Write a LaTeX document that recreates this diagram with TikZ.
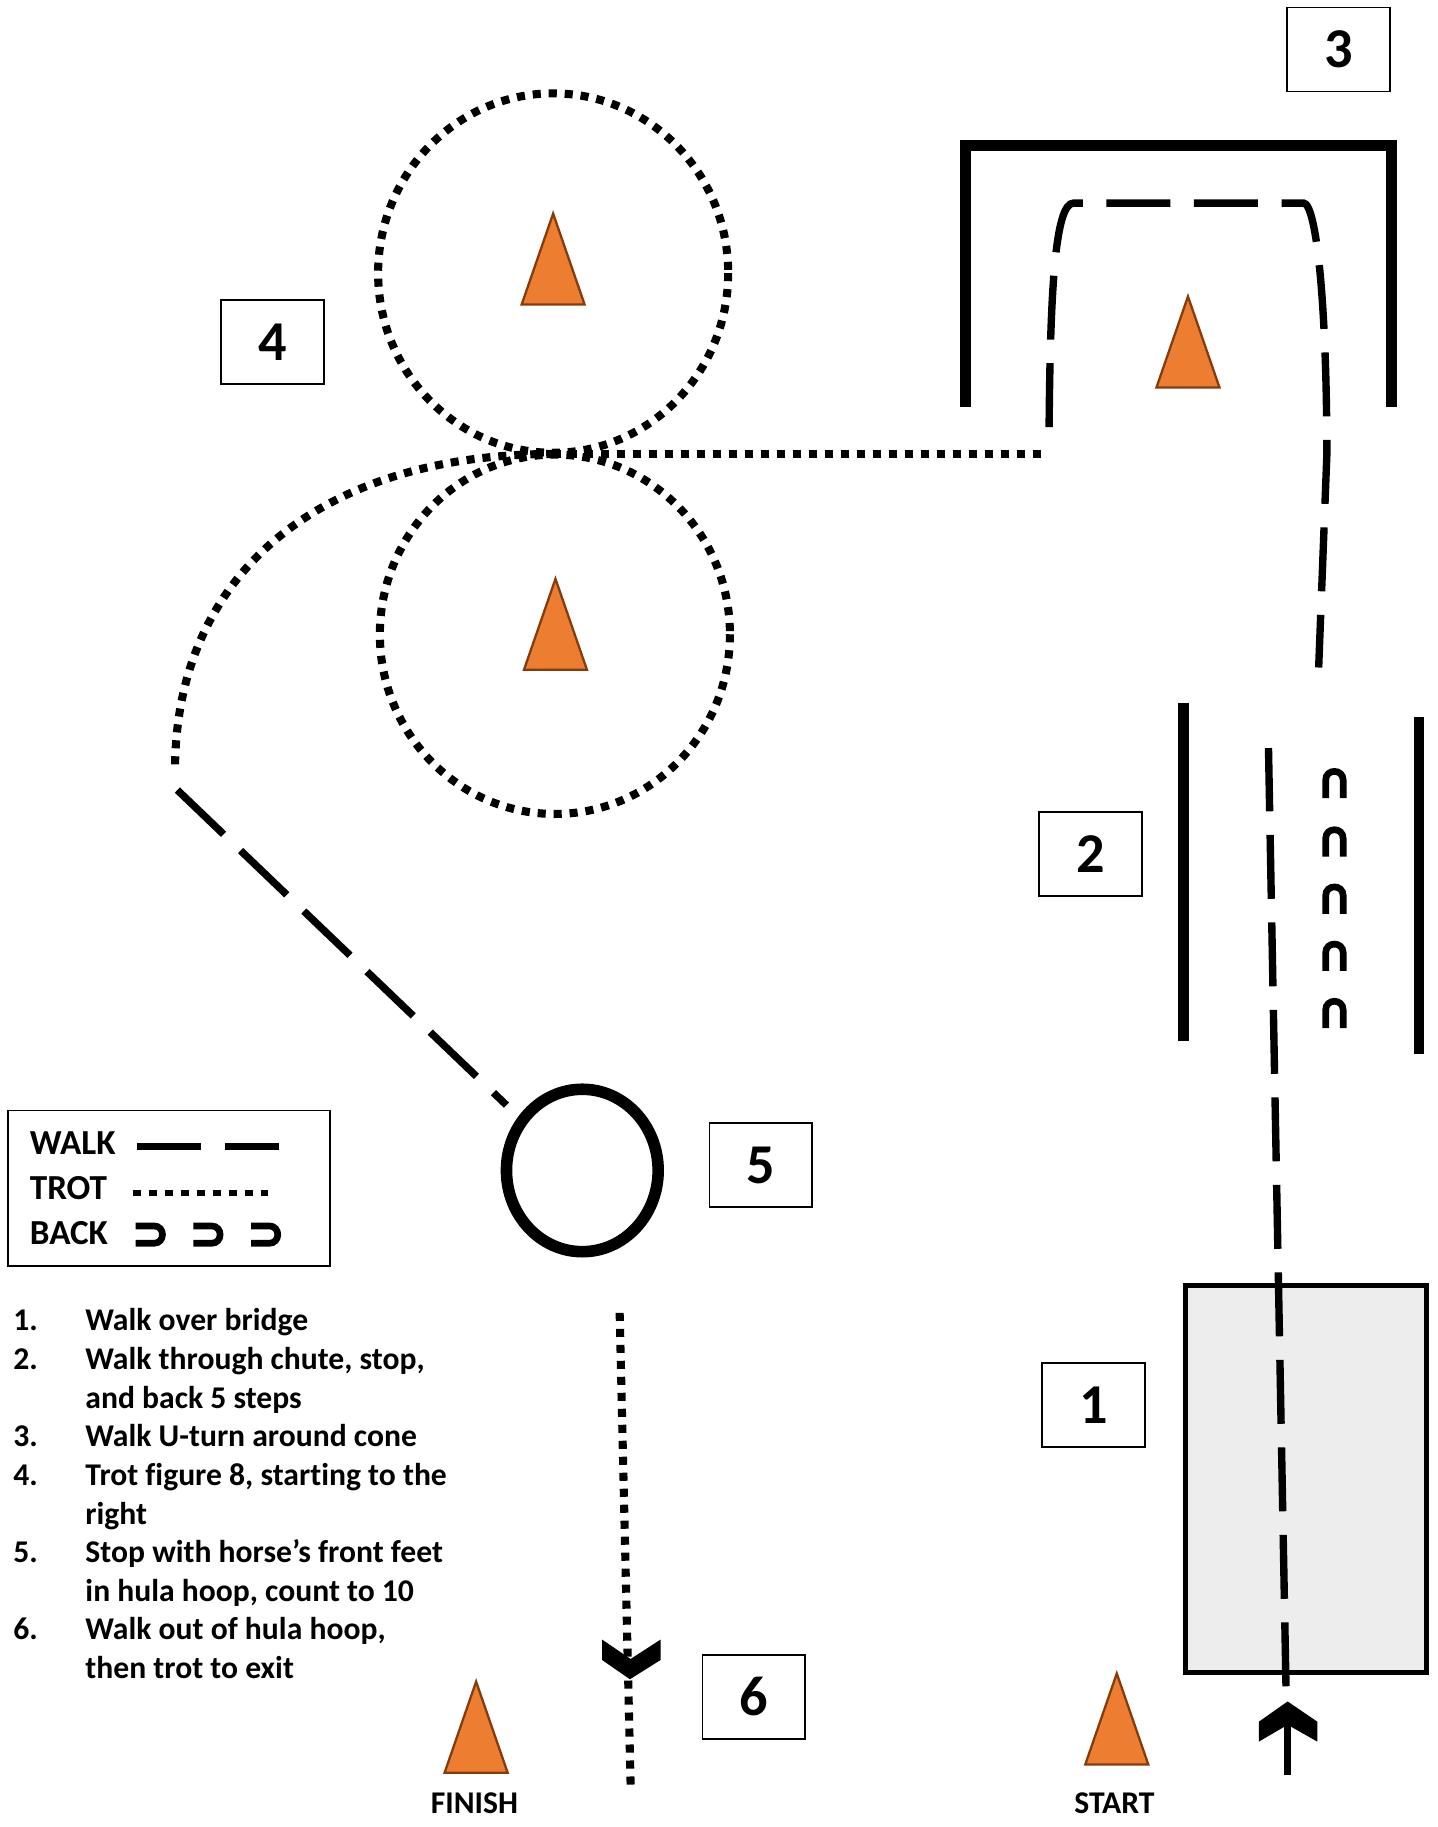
\documentclass[tikz,border=0pt]{standalone}
\usepackage{fontspec}
\setmainfont{Carlito}[Ligatures=NoCommon]
\definecolor{coneorange}{HTML}{ED7D31}
\definecolor{conebrown}{HTML}{843C0C}
\definecolor{bridgegray}{HTML}{EDEDED}
\begin{document}
\begin{tikzpicture}[x=0.1167mm, y=-0.1167mm,
	walk/.style={line width=2.1pt, dash pattern=on 18.2pt off 6.7pt},
	trot/.style={line width=2.3pt, dash pattern=on 2.3pt off 2.25pt},
	wall/.style={line width=3.1pt},
	cone/.style={fill=coneorange, draw=conebrown, line width=0.65pt},
	numbox/.style={draw, line width=0.5pt, minimum width=10.27mm, minimum height=8.4mm, inner sep=0pt, font=\fontsize{16}{19}\selectfont\bfseries},
	backmark/.style={line width=1.9pt},
	signtext/.style={font=\fontsize{9}{11}\selectfont\bfseries, inner sep=0pt}]
		\useasboundingbox (0,0) rectangle (1231.4,1565.6);
		
		%cones
		\foreach \cx/\cy in {474/183, 476/496, 1018/254, 408/1441, 957/1434}{
			\draw[cone] (\cx,\cy) -- ++(27,78) -- ++(-54,0) -- cycle;
		}
		
		%chute around cone (3)
		\draw[wall] (827,348.5) -- (827,124.5) -- (1192.5,124.5) -- (1192.5,348.5);
		\draw[walk] (899,366) .. controls (900,250) and (904,174) .. (920,174) -- (1117,174)
			.. controls (1128,174) and (1137,260) .. (1137,390) -- (1130,572);
		
		%chute (2)
		\draw[wall] (1014,602) -- (1014,892);
		\draw[wall] (1216,614) -- (1216,903);
		\foreach \t in {661,711,760,809,858}{
			\draw[backmark] (1136,{\t+23}) -- (1136,{\t+7.5}) .. controls (1136,{\t-2.5}) and (1151,{\t-2.5}) .. (1151,{\t+7.5}) -- (1151,{\t+23});
		}
		
		%bridge (1)
		\draw[fill=bridgegray, line width=1.45pt] (1016,1101.3) rectangle (1222.6,1433.2);
		\draw[walk] (1102,1445) -- (1087,641);
		\draw[line width=2.1pt] (1103.4,1521) -- (1103.4,1472);
		\fill (1103.4,1458) -- (1128.8,1475.3) -- (1128.8,1492.4) -- (1103.4,1478) -- (1078.8,1492.4) -- (1078.8,1475.3) -- cycle;
		
		%figure 8 (4)
		\draw[trot] (892,389) -- (475,389);
		\draw[trot] (474,234) ellipse [x radius=150, y radius=154];
		\draw[trot] (475.5,543.5) ellipse [x radius=150, y radius=154];
		\draw[trot] (475,389) .. controls (273,389) and (150,493) .. (150,660);
		\draw[walk] (152,677) -- (434,947);
		
		%hula hoop (5) and exit (6)
		\draw[line width=3.3pt] (499,1003) ellipse [x radius=65, y radius=69.6];
		\draw[trot] (531,1125) -- (540.5,1534);
		\fill (516,1405) -- (540.4,1421.6) -- (566,1405) -- (566,1422.5) -- (539.8,1439) -- (516,1422.5) -- cycle;
		
		%numbers
		\node[numbox] (box1) at (937,1204) {1};
		\node[numbox] (box2) at (934.5,732) {2};
		\node[numbox] (box3) at (1147,42.5) {3};
		\node[numbox] (box4) at (233.5,293) {4};
		\node[numbox] (box5) at (652,998.5) {5};
		\node[numbox] (box6) at (646,1454) {6};
		
		\node[signtext, anchor=base] (finish) at (406.6,1554.4) {FINISH};
		\node[signtext, anchor=base] (start) at (955,1554.4) {START};
		
		%legend
		\draw[line width=0.5pt] (7.1,951.7) rectangle (282.8,1084.6);
		\node[anchor=base west, inner sep=0pt, font=\fontsize{10}{12}\selectfont\bfseries] (lgwalk) at (25,989.7) {WALK};
		\node[anchor=base west, inner sep=0pt, font=\fontsize{10}{12}\selectfont\bfseries] (lgtrot) at (25,1028) {TROT};
		\node[anchor=base west, inner sep=0pt, font=\fontsize{10}{12}\selectfont\bfseries] (lgback) at (25,1066.8) {BACK};
		\draw[walk, line width=1.9pt] (117.7,982.6) -- (239.3,982.6);
		\draw[trot, line width=1.8pt] (114.3,1022.5) -- (230,1022.5);
		\foreach \bx in {116.3,165.7,215.1}{
			\draw[backmark] (\bx,1050.5) -- ({\bx+15.5},1050.5) .. controls ({\bx+25.4},1050.5) and ({\bx+25.4},1065.4) .. ({\bx+15.5},1065.4) -- (\bx,1065.4);
		}
		
		%steps
		\node[signtext, anchor=base west] (steps) at (10.9,1140.3) {\begin{tabular}[t]{@{}p{20.5pt}@{}l@{}}
			1. & Walk over bridge\\
			2. & Walk through chute, stop,\\
			   & and back 5 steps\\
			3. & Walk U-turn around cone\\
			4. & Trot figure 8, starting to the\\
			   & right\\
			5. & Stop with horse’s front feet\\
			   & in hula hoop, count to 10\\
			6. & Walk out of hula hoop,\\
			   & then trot to exit
		\end{tabular}};
		\end{tikzpicture}
\end{document}
